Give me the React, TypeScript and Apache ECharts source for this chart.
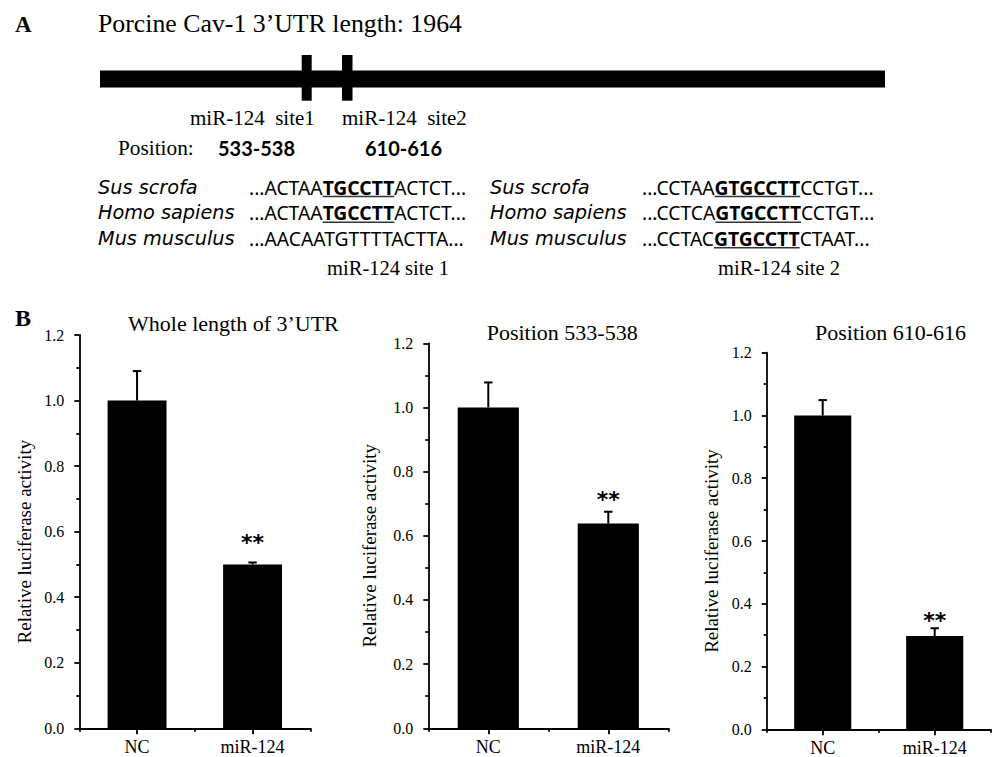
import React, { useEffect, useRef } from "react";
import * as echarts from "echarts";

// ---------- Panel B data ----------
const categories = ["NC", "miR-124"];
const wholeMeans = [1.0, 0.5];
const wholeErrors = [0.09, 0.006];
const site1Means = [1.0, 0.638];
const site1Errors = [0.078, 0.037];
const site2Means = [1.0, 0.297];
const site2Errors = [0.049, 0.025];
const starLevels = [0.581, 0.73, 0.362];
const starMarks = ["**", "**", "**"];
const panelTitles = ["Whole length of 3\u2019UTR", "Position 533-538", "Position 610-616"];
const yAxisName = "Relative luciferase activity";
const yMin = 0;
const yMax = 1.2;
const yInterval = 0.2;

// ---------- Panel A text ----------
const utrTitle = "Porcine Cav-1 3\u2019UTR length: 1964";
const siteNames = ["miR-124  site1", "miR-124  site2"];
const sitePositions = ["533-538", "610-616"];
const positionLabel = "Position:";
const species = ["Sus scrofa", "Homo sapiens", "Mus musculus"];
const site1Seqs = [
  ["...ACTAA", "TGCCTT", "ACTCT..."],
  ["...ACTAA", "TGCCTT", "ACTCT..."],
  ["...AACAATGTTTTACTTA...", "", ""],
];
const site2Seqs = [
  ["...CCTAA", "GTGCCTT", "CCTGT..."],
  ["...CCTCA", "GTGCCTT", "CCTGT..."],
  ["...CCTAC", "GTGCCTT", "CTAAT..."],
];
const siteCaptions = ["miR-124 site 1", "miR-124 site 2"];

const SERIF = '"Liberation Serif", "Times New Roman", serif';
const SANS = '"Noto Sans", "Open Sans", sans-serif';
const ITAL = '"DejaVu Sans", "Noto Sans", sans-serif';

function measure(text: string, font: string): number {
  const c = document.createElement("canvas").getContext("2d")!;
  c.font = font;
  return c.measureText(text).width;
}

function buildOption() {
  const grids = [
    { left: 79.3, top: 335, width: 231, height: 393.3 },
    { left: 428.3, top: 343.3, width: 240, height: 385 },
    { left: 766.7, top: 352.7, width: 224, height: 376.6 },
  ];
  const nameGaps = [45, 49, 45.5];
  const titleX = [128, 486.7, 815];
  const titleY = [323, 332, 332];
  const means = [wholeMeans, site1Means, site2Means];
  const errs = [wholeErrors, site1Errors, site2Errors];

  const axisLineStyle = { color: "#000", width: 1.8 };

  const xAxis: any[] = [];
  const yAxis: any[] = [];
  const series: any[] = [];

  grids.forEach((_, g) => {
    xAxis.push({
      type: "category",
      gridIndex: g,
      data: categories,
      position: "bottom",
      boundaryGap: true,
      axisLine: { show: true, onZero: false, lineStyle: axisLineStyle },
      axisTick: { show: true, alignWithLabel: true, length: 6, lineStyle: axisLineStyle },
      axisLabel: { color: "#000", fontFamily: SERIF, fontSize: 18, lineHeight: 16, margin: 11 },
      splitLine: { show: false },
    });
    xAxis.push({
      type: "category",
      gridIndex: g,
      data: categories,
      position: "bottom",
      boundaryGap: true,
      axisLine: { show: false, onZero: false },
      axisTick: { show: true, length: 3.5, lineStyle: axisLineStyle },
      axisLabel: { show: false },
      splitLine: { show: false },
    });
    yAxis.push({
      type: "value",
      gridIndex: g,
      min: yMin,
      max: yMax,
      interval: yInterval,
      axisLine: { show: true, lineStyle: axisLineStyle },
      axisTick: { show: true, length: 5, lineStyle: axisLineStyle },
      minorTick: { show: true, splitNumber: 2, length: 3, lineStyle: axisLineStyle },
      splitLine: { show: false },
      minorSplitLine: { show: false },
      axisLabel: {
        color: "#000",
        fontFamily: SERIF,
        fontSize: 16,
        margin: 15,
        formatter: (v: number) => v.toFixed(1),
      },
      name: yAxisName,
      nameLocation: "middle",
      nameRotate: 90,
      nameGap: nameGaps[g],
      nameTextStyle: { color: "#000", fontFamily: SERIF, fontSize: 19, padding: [0, 20, 0, 0] },
    });

    series.push({
      type: "bar",
      xAxisIndex: g * 2,
      yAxisIndex: g,
      data: means[g],
      barWidth: "51%",
      itemStyle: { color: "#000" },
      z: 2,
    });
    series.push({
      type: "custom",
      xAxisIndex: g * 2,
      yAxisIndex: g,
      data: means[g].map((m, i) => [i, m, errs[g][i]]),
      renderItem: (_p: any, api: any) => {
        const i = api.value(0);
        const m = api.value(1);
        const e = api.value(2);
        const base = api.coord([i, m]);
        const top = api.coord([i, m + e]);
        const half = 4.2;
        return {
          type: "group",
          children: [
            {
              type: "line",
              shape: { x1: base[0], y1: base[1], x2: top[0], y2: top[1] },
              style: { stroke: "#000", lineWidth: 2 },
            },
            {
              type: "line",
              shape: { x1: top[0] - half, y1: top[1], x2: top[0] + half, y2: top[1] },
              style: { stroke: "#000", lineWidth: 2 },
            },
          ],
        };
      },
      z: 3,
    });
    series.push({
      type: "custom",
      xAxisIndex: g * 2,
      yAxisIndex: g,
      data: [[1, starLevels[g]]],
      renderItem: (_p: any, api: any) => {
        const p = api.coord([api.value(0), api.value(1)]);
        return {
          type: "text",
          x: p[0],
          y: p[1] + 5,
          style: {
            text: starMarks[g],
            fill: "#000",
            fontFamily: '"DejaVu Sans", sans-serif',
            fontWeight: "bold",
            fontSize: 22,
            textAlign: "center",
            textVerticalAlign: "middle",
          },
        };
      },
      z: 4,
    });
  });

  // ---------- graphic elements ----------
  const graphic: any[] = [];
  const txt = (text: string, x: number, y: number, font: any, extra: any = {}) => ({
    type: "text",
    x,
    y,
    style: {
      text,
      fill: "#000",
      textAlign: "left",
      textVerticalAlign: "middle",
      ...font,
      ...extra,
    },
    z: 10,
  });

  graphic.push(txt("A", 15, 24, { fontFamily: SERIF, fontSize: 23, fontWeight: "bold" }));
  graphic.push(txt(utrTitle, 98, 23.5, { fontFamily: SERIF, fontSize: 25.8 }));
  // UTR schematic
  graphic.push({ type: "rect", shape: { x: 100, y: 70.5, width: 785, height: 17 }, style: { fill: "#000" } });
  graphic.push({ type: "rect", shape: { x: 301.7, y: 55, width: 10, height: 45.7 }, style: { fill: "#000" } });
  graphic.push({ type: "rect", shape: { x: 342, y: 55, width: 10.5, height: 45.7 }, style: { fill: "#000" } });
  graphic.push(txt(siteNames[0], 190, 118.3, { fontFamily: SERIF, fontSize: 21 }));
  graphic.push(txt(siteNames[1], 342, 118.3, { fontFamily: SERIF, fontSize: 21 }));
  graphic.push(txt(positionLabel, 118, 148.3, { fontFamily: SERIF, fontSize: 21.3 }));
  graphic.push(txt(sitePositions[0], 218, 148.3, { fontFamily: '"Lato", sans-serif', fontSize: 20, fontWeight: "bold" }));
  graphic.push(txt(sitePositions[1], 365, 148.3, { fontFamily: '"Lato", sans-serif', fontSize: 20, fontWeight: "bold" }));

  const rowY = [187, 212.7, 238.3];
  const seqSize = 19.3;
  const blocks = [
    { spX: 98, seqX: 249, seqs: site1Seqs, capX: 388, cap: siteCaptions[0] },
    { spX: 490, seqX: 642, seqs: site2Seqs, capX: 779, cap: siteCaptions[1] },
  ];
  blocks.forEach((b) => {
    species.forEach((sp, r) => {
      graphic.push(txt(sp, b.spX, rowY[r], { fontFamily: ITAL, fontSize: 19.3, fontStyle: "italic" }));
      const [pre, seed, post] = b.seqs[r];
      const wPre = measure(pre, `${seqSize}px ${SANS}`);
      const wSeed = seed ? measure(seed, `bold ${seqSize}px ${SANS}`) : 0;
      graphic.push(txt(pre, b.seqX, rowY[r], { fontFamily: SANS, fontSize: seqSize }));
      if (seed) {
        graphic.push(txt(seed, b.seqX + wPre, rowY[r], { fontFamily: SANS, fontSize: seqSize, fontWeight: "bold" }));
        graphic.push({
          type: "line",
          shape: { x1: b.seqX + wPre, y1: rowY[r] + 9.5, x2: b.seqX + wPre + wSeed, y2: rowY[r] + 9.5 },
          style: { stroke: "#333", lineWidth: 1.5 },
        });
        graphic.push(txt(post, b.seqX + wPre + wSeed, rowY[r], { fontFamily: SANS, fontSize: seqSize }));
      }
    });
    graphic.push(txt(b.cap, b.capX, 267.5, { fontFamily: SERIF, fontSize: 20.5, textAlign: "center" }));
  });

  graphic.push(txt("B", 15, 318.3, { fontFamily: SERIF, fontSize: 24, fontWeight: "bold" }));
  panelTitles.forEach((t, g) => {
    graphic.push(txt(t, titleX[g], titleY[g], { fontFamily: SERIF, fontSize: 22 }));
  });

  return {
    animation: false,
    backgroundColor: "#fff",
    grid: grids.map((g) => ({ ...g, containLabel: false, outerBoundsMode: "none" })),
    xAxis,
    yAxis,
    series,
    graphic,
  };
}

export default function App() {
  const ref = useRef<HTMLDivElement>(null);
  useEffect(() => {
    if (!ref.current) return;
    const chart = echarts.init(ref.current, null, { renderer: "svg" });
    chart.setOption(buildOption() as any);
    return () => chart.dispose();
  }, []);
  return (
    <div
      ref={ref}
      style={{ position: "absolute", left: 0, top: 0, width: 993, height: 757, background: "#fff" }}
    />
  );
}
